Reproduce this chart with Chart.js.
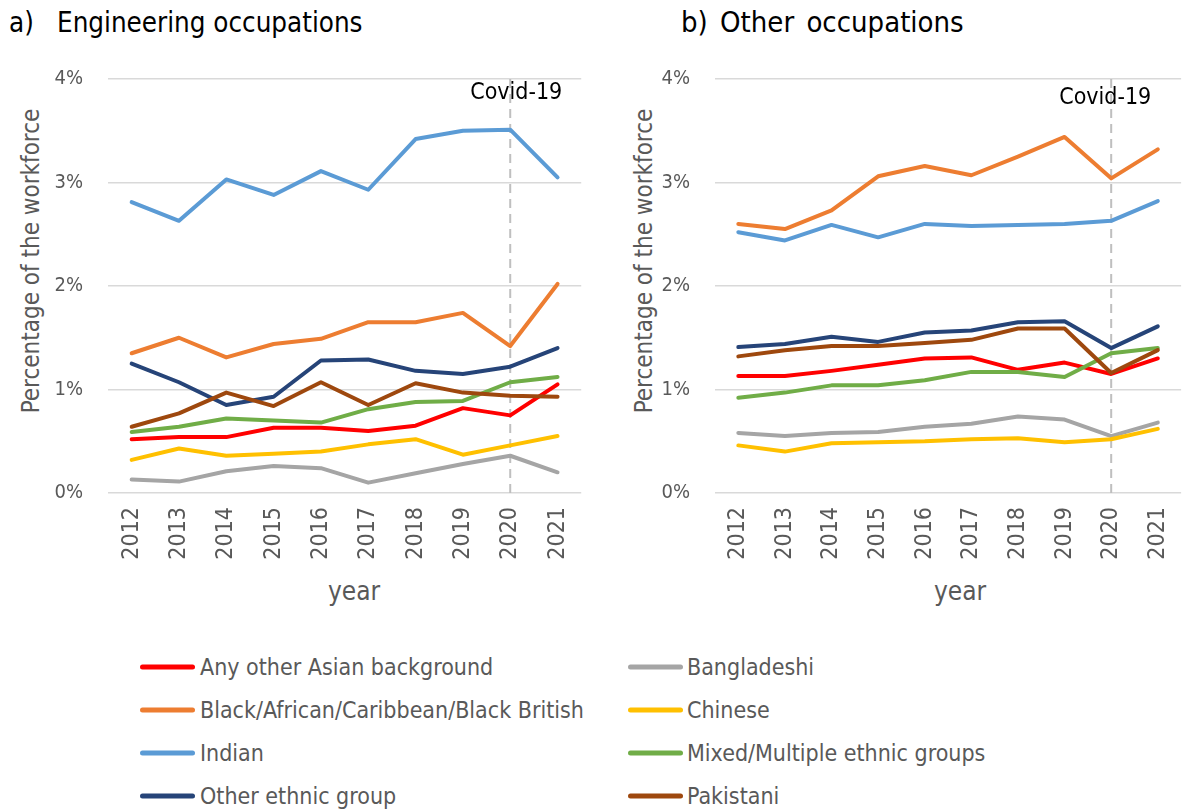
<!DOCTYPE html>
<html>
<head>
<meta charset="utf-8">
<script src="https://cdn.jsdelivr.net/npm/chart.js@4.4.1/dist/chart.umd.min.js"></script>
<style>
  html, body { margin:0; padding:0; background:#fff; }
  body { width:1184px; height:809px; overflow:hidden; position:relative;
         font-family:"DejaVu Sans Condensed","DejaVu Sans",sans-serif; }
  .abs { position:absolute; white-space:nowrap; line-height:1; }
  .ttl { font-size:27.5px; color:#000; }
  .ytitle { font-size:24px; color:#595959; transform:translate(-50%,-50%) rotate(-90deg); }
  .xtitle { font-size:26px; color:#595959; transform:translate(-50%,-50%); }
  .leg { font-size:23px; color:#595959; transform:translateY(-50%); }
  .legline { position:absolute; height:5px; border-radius:3px; transform:translateY(-50%); }
  canvas { position:absolute; }
</style>
</head>
<body>
<div class="abs ttl" style="left:9px;top:9px;">a)</div>
<div class="abs ttl" style="left:57px;top:9px;">Engineering occupations</div>
<div class="abs ttl" style="left:681px;top:8px;font-size:29px;word-spacing:4px;">b) Other occupations</div>
<div class="abs ytitle" style="left:31px;top:261px;">Percentage of the workforce</div>
<div class="abs ytitle" style="left:644px;top:261px;">Percentage of the workforce</div>
<div class="abs xtitle" style="left:354px;top:591px;">year</div>
<div class="abs xtitle" style="left:960px;top:591px;">year</div>
<canvas id="c1" width="600" height="620" style="left:0;top:0;"></canvas>
<canvas id="c2" width="600" height="620" style="left:600px;top:0;"></canvas>
<div id="legend"></div>
<script>
// ---- data (values in % of workforce) ----
const years = ['2012','2013','2014','2015','2016','2017','2018','2019','2020','2021'];
const seriesNames = ['Any other Asian background','Bangladeshi','Black/African/Caribbean/Black British','Chinese','Indian','Mixed/Multiple ethnic groups','Other ethnic group','Pakistani'];
const seriesColors = ['#FF0000','#A5A5A5','#ED7D31','#FFC000','#5B9BD5','#70AD47','#264478','#9E480E'];
const yTicks = [0,1,2,3,4];
const covidYear = '2020';

// Engineering occupations
const engAnyOtherAsian = [0.52,0.54,0.54,0.63,0.63,0.60,0.65,0.82,0.75,1.05];
const engBangladeshi   = [0.13,0.11,0.21,0.26,0.24,0.10,0.19,0.28,0.36,0.20];
const engBlack         = [1.35,1.50,1.31,1.44,1.49,1.65,1.65,1.74,1.42,2.02];
const engChinese       = [0.32,0.43,0.36,0.38,0.40,0.47,0.52,0.37,0.46,0.55];
const engIndian        = [2.81,2.63,3.03,2.88,3.11,2.93,3.42,3.50,3.51,3.05];
const engMixed         = [0.59,0.64,0.72,0.70,0.68,0.81,0.88,0.89,1.07,1.12];
const engOther         = [1.25,1.07,0.85,0.93,1.28,1.29,1.18,1.15,1.22,1.40];
const engPakistani     = [0.64,0.77,0.97,0.84,1.07,0.85,1.06,0.97,0.94,0.93];

// Other occupations
const othAnyOtherAsian = [1.13,1.13,1.18,1.24,1.30,1.31,1.19,1.26,1.15,1.30];
const othBangladeshi   = [0.58,0.55,0.58,0.59,0.64,0.67,0.74,0.71,0.55,0.68];
const othBlack         = [2.60,2.55,2.73,3.06,3.16,3.07,3.25,3.44,3.04,3.32];
const othChinese       = [0.46,0.40,0.48,0.49,0.50,0.52,0.53,0.49,0.52,0.62];
const othIndian        = [2.52,2.44,2.59,2.47,2.60,2.58,2.59,2.60,2.63,2.82];
const othMixed         = [0.92,0.97,1.04,1.04,1.09,1.17,1.17,1.12,1.35,1.40];
const othOther         = [1.41,1.44,1.51,1.46,1.55,1.57,1.65,1.66,1.40,1.61];
const othPakistani     = [1.32,1.38,1.42,1.42,1.45,1.48,1.59,1.59,1.16,1.38];

const engData = [engAnyOtherAsian,engBangladeshi,engBlack,engChinese,engIndian,engMixed,engOther,engPakistani];
const othData = [othAnyOtherAsian,othBangladeshi,othBlack,othChinese,othIndian,othMixed,othOther,othPakistani];

const FONT = '"DejaVu Sans Condensed","DejaVu Sans",sans-serif';
const GREY = '#595959';

const covidPlugin = {
  id: 'covid',
  beforeDatasetsDraw(chart, args, opts) {
    const {ctx, chartArea} = chart;
    const x = chart.scales.x.getPixelForValue(years.indexOf(covidYear));
    ctx.save();
    ctx.strokeStyle = '#BFBFBF';
    ctx.lineWidth = 2;
    ctx.setLineDash([9, 6]);
    ctx.beginPath();
    ctx.moveTo(x, chartArea.top);
    ctx.lineTo(x, chartArea.bottom);
    ctx.stroke();
    ctx.restore();
  },
  afterDraw(chart, args, opts) {
    const {ctx} = chart;
    const x = chart.scales.x.getPixelForValue(years.indexOf(covidYear));
    ctx.save();
    ctx.font = '23px ' + FONT;
    ctx.fillStyle = '#000';
    ctx.textAlign = 'center';
    ctx.textBaseline = 'middle';
    ctx.fillText('Covid-19', x + opts.dx, opts.y);
    ctx.restore();
  }
};

function makeChart(id, data, yAxisWidth, padRight, covidDx, covidY) {
  const datasets = data.map((vals, i) => ({
    label: seriesNames[i],
    data: vals,
    borderColor: seriesColors[i],
    backgroundColor: seriesColors[i],
    borderWidth: 4,
    pointRadius: 0,
    tension: 0,
    borderCapStyle: 'round',
    borderJoinStyle: 'round',
    order: data.length - 1 - i
  }));
  return new Chart(document.getElementById(id), {
    type: 'line',
    data: { labels: years, datasets },
    plugins: [covidPlugin],
    options: {
      responsive: false,
      animation: false,
      layout: { padding: { top: 79, right: padRight, bottom: 0, left: 0 } },
      plugins: {
        legend: { display: false },
        tooltip: { enabled: false },
        covid: { dx: covidDx, y: covidY }
      },
      scales: {
        x: {
          offset: true,
          grid: { display: false, drawTicks: false },
          border: { display: false },
          ticks: { maxRotation: 90, minRotation: 90, padding: 14, color: GREY,
                   font: { family: FONT, size: 23 } },
          afterFit(scale) { scale.height = 127; }
        },
        y: {
          min: 0, max: 4,
          afterBuildTicks(scale) { scale.ticks = yTicks.map(v => ({ value: v })); },
          grid: { color: '#D9D9D9', lineWidth: 1.5, drawTicks: false },
          border: { display: false },
          ticks: { padding: 25, color: GREY, font: { family: FONT, size: 20 },
                   callback: v => v + '%' },
          afterFit(scale) { scale.width = yAxisWidth; }
        }
      }
    }
  });
}

makeChart('c1', engData, 108, 17, 6, 93);
makeChart('c2', othData, 115, 12, -6, 98);

// ---- legend (HTML, built from the series arrays) ----
const legend = document.getElementById('legend');
const rowY = [667, 710, 753, 796];
const colLine = [140, 628];
const colText = [200, 687];
seriesNames.forEach((name, i) => {
  const col = i % 2, row = Math.floor(i / 2);
  const ln = document.createElement('div');
  ln.className = 'legline';
  ln.style.left = colLine[col] + 'px';
  ln.style.top = rowY[row] + 'px';
  ln.style.width = '55px';
  ln.style.background = seriesColors[i];
  legend.appendChild(ln);
  const tx = document.createElement('div');
  tx.className = 'abs leg';
  tx.style.left = colText[col] + 'px';
  tx.style.top = rowY[row] + 'px';
  tx.textContent = name;
  legend.appendChild(tx);
});
</script>
</body>
</html>
